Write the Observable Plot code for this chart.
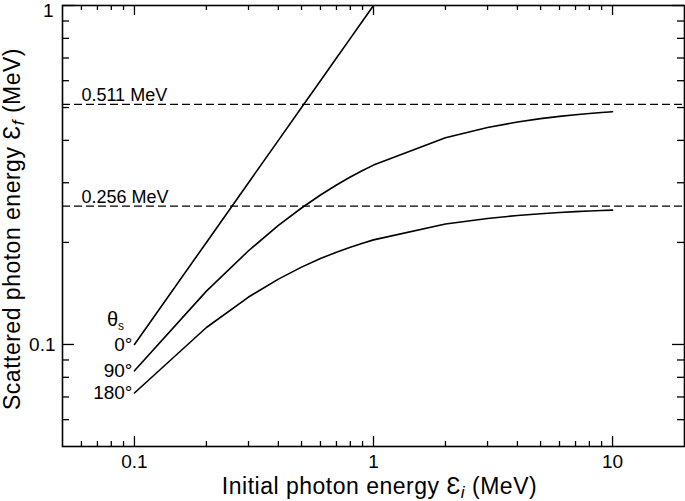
<!DOCTYPE html>
<html><head><meta charset="utf-8">
<script src="https://cdn.jsdelivr.net/npm/d3@7"></script>
<script src="https://cdn.jsdelivr.net/npm/@observablehq/plot@0.6"></script>
<style>body{margin:0;background:#fff} svg{display:block}</style>
</head><body><div id="chart"></div>
<script>
// Initial photon energy (MeV)
const energies = [0.1,0.2,0.3,0.4,0.5,0.6,0.7,0.8,0.9,1,2,3,4,5,6,7,8,9,10];
// Scattered photon energy (MeV) for each scattering angle
const scat0 = [0.1,0.2,0.3,0.4,0.5,0.6,0.7,0.8,0.9,1];
const scat90 = [0.0836,0.1437,0.189,0.2244,0.2527,0.276,0.2954,0.3118,0.3259,0.3382,0.407,0.4366,0.4531,0.4636,0.4709,0.4762,0.4803,0.4835,0.4861];
const scat180 = [0.0719,0.1122,0.138,0.1559,0.1691,0.1792,0.1872,0.1937,0.199,0.2035,0.2266,0.2354,0.2402,0.2431,0.2451,0.2465,0.2476,0.2484,0.2491];
const angleLabels = ["0°","90°","180°"];
const refLines = [0.511, 0.256];
const refLabels = ["0.511 MeV","0.256 MeV"];
const xMajor = [0.1, 1, 10];
const xMinor = [0.06,0.07,0.08,0.09,0.2,0.3,0.4,0.5,0.6,0.7,0.8,0.9,2,3,4,5,6,7,8,9];
const yMajor = [0.1, 1];
const yMinor = [0.06,0.07,0.08,0.09,0.2,0.3,0.4,0.5,0.6,0.7,0.8,0.9];
const xLabel = "Initial photon energy Ɛ_i (MeV)";
const yLabel = "Scattered photon energy Ɛ_f (MeV)";
const thetaLabel = "θ_s";

const W = 685, H = 501, mL = 62, mR = 1, mT = 5, mB = 55;
const pw = W - mL - mR, ph = H - mT - mB;

const series = [
  ...scat0.map((v,i)=>({x: energies[i], y: v, s: "0"})),
  ...scat90.map((v,i)=>({x: energies[i], y: v, s: "90"})),
  ...scat180.map((v,i)=>({x: energies[i], y: v, s: "180"}))
];
const starts = [scat0[0], scat90[0], scat180[0]].map((y,i)=>({x: energies[0], y, t: angleLabels[i]}));
const refs = refLines.map((y,i)=>({y, t: refLabels[i]}));

const font = "Liberation Sans, Arial, Helvetica, sans-serif";
const chart = Plot.plot({
  width: W, height: H,
  marginLeft: mL, marginRight: mR, marginTop: mT, marginBottom: mB,
  style: {fontFamily: font, fontSize: "19px", background: "white", color: "black"},
  x: {type: "log", domain: [0.05, 20]},
  y: {type: "log", domain: [0.05, 1]},
  marks: [
    Plot.ruleY(refs, {y: "y", stroke: "black", strokeWidth: 1.4, strokeDasharray: "8,4"}),
    Plot.text(refs, {y: "y", x: () => 0.06, text: "t", textAnchor: "start", lineAnchor: "bottom", dy: -3, fontSize: 18, fill: "black"}),
    Plot.line(series, {x: "x", y: "y", z: "s", stroke: "black", strokeWidth: 1.6, clip: true}),
    Plot.text(starts, {x: "x", y: "y", text: "t", textAnchor: "end", dx: -2, fontSize: 19, fill: "black"}),
    Plot.text([thetaLabel], {x: () => energies[0], y: () => scat0[0], text: d => d, textAnchor: "middle", dx: -19, dy: -25, fontSize: 20, fill: "black"}),
    // inward ticks, bottom & top
    Plot.tickX(xMajor, {x: d => d, insetTop: ph - 10, strokeWidth: 1.3}),
    Plot.tickX(xMinor, {x: d => d, insetTop: ph - 5, strokeWidth: 1.3}),
    Plot.tickX(xMajor, {x: d => d, insetBottom: ph - 10, strokeWidth: 1.3}),
    Plot.tickX(xMinor, {x: d => d, insetBottom: ph - 5, strokeWidth: 1.3}),
    // inward ticks, left & right
    Plot.tickY(yMajor, {y: d => d, insetRight: pw - 12, strokeWidth: 1.3}),
    Plot.tickY(yMinor, {y: d => d, insetRight: pw - 7, strokeWidth: 1.3}),
    Plot.tickY(yMajor, {y: d => d, insetLeft: pw - 12, strokeWidth: 1.3}),
    Plot.tickY(yMinor, {y: d => d, insetLeft: pw - 7, strokeWidth: 1.3}),
    Plot.axisX({ticks: xMajor, tickSize: 0, tickPadding: 8, tickFormat: d => String(d), label: null, fontSize: 19}),
    Plot.axisY({ticks: [yMajor[0]], tickSize: 0, tickPadding: 7, tickFormat: d => String(d), label: null, fontSize: 19}),
    Plot.axisY({ticks: [yMajor[1]], tickSize: 0, tickPadding: 9, tickFormat: d => String(d), label: null, fontSize: 19, dy: 5}),
    Plot.frame({stroke: "black", strokeWidth: 1.6}),
    Plot.text([xLabel], {frameAnchor: "bottom", text: d => d, textAnchor: "middle", lineAnchor: "bottom", dx: 6, dy: 47, fontSize: 23, fill: "black"}),
    Plot.text([yLabel], {frameAnchor: "left", text: d => d, textAnchor: "middle", lineAnchor: "bottom", dx: -43, dy: 3, rotate: -90, fontSize: 23, fill: "black"})
  ]
});

// rich text: symbol + italic subscript
d3.select(chart).selectAll("text").each(function() {
  const t = this.textContent;
  const m = t.match(/^(.*?)([Ɛθ])_(\w)(.*)$/);
  if (!m) return;
  const sel = d3.select(this);
  sel.text(null);
  if (m[2] === "Ɛ") sel.attr("letter-spacing", "0.5px");
  if (m[1]) sel.append("tspan").text(m[1]);
  sel.append("tspan").text(m[2]);
  const sub = sel.append("tspan").text(m[3]).attr("dy", 4).attr("font-size", m[2] === "θ" ? "0.6em" : "0.75em");
  if (m[2] === "Ɛ") sub.attr("font-style", "italic");
  if (m[4]) sel.append("tspan").text(m[4]).attr("dy", -4);
});

document.getElementById("chart").append(chart);
</script>
</body></html>
